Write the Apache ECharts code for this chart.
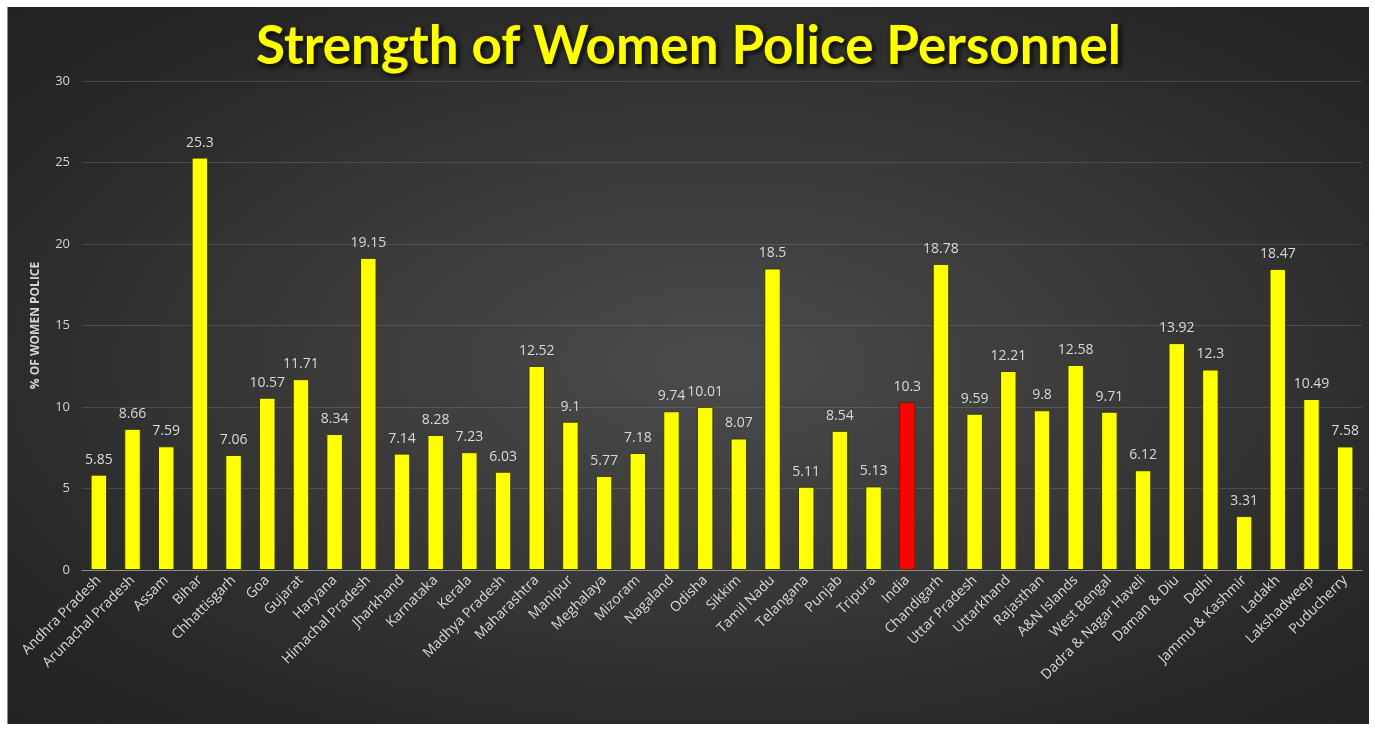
<!DOCTYPE html>
<html>
<head>
<meta charset="utf-8">
<script src="https://cdn.jsdelivr.net/npm/echarts@6/dist/echarts.min.js"></script>
<style>
  html, body { margin: 0; padding: 0; background: #ffffff; }
  #chart {
    position: absolute;
    left: 7px;
    top: 7px;
    width: 1362px;
    height: 717px;
    border-left: 1px solid #8a8a8a;
    box-sizing: border-box;
    background: radial-gradient(ellipse at 52% 50%, #4b4b4b 0%, #3a3a3a 40%, #282828 78%, #222222 100%);
  }
</style>
</head>
<body>
<div id="chart"></div>
<script>
const states = [
  'Andhra Pradesh', 'Arunachal Pradesh', 'Assam', 'Bihar', 'Chhattisgarh', 'Goa', 'Gujarat',
  'Haryana', 'Himachal Pradesh', 'Jharkhand', 'Karnataka', 'Kerala', 'Madhya Pradesh',
  'Maharashtra', 'Manipur', 'Meghalaya', 'Mizoram', 'Nagaland', 'Odisha', 'Sikkim',
  'Tamil Nadu', 'Telangana', 'Punjab', 'Tripura', 'India', 'Chandigarh', 'Uttar Pradesh',
  'Uttarkhand', 'Rajasthan', 'A&N Islands', 'West Bengal', 'Dadra & Nagar Haveli',
  'Daman & Diu', 'Delhi', 'Jammu & Kashmir', 'Ladakh', 'Lakshadweep', 'Puducherry'
];
const womenPct = [
  5.85, 8.66, 7.59, 25.3, 7.06, 10.57, 11.71,
  8.34, 19.15, 7.14, 8.28, 7.23, 6.03,
  12.52, 9.1, 5.77, 7.18, 9.74, 10.01, 8.07,
  18.5, 5.11, 8.54, 5.13, 10.3, 18.78, 9.59,
  12.21, 9.8, 12.58, 9.71, 6.12,
  13.92, 12.3, 3.31, 18.47, 10.49, 7.58
];
const highlight = 'India';

const chart = echarts.init(document.getElementById('chart'));

chart.setOption({
  backgroundColor: 'transparent',
  title: {
    text: 'Strength of Women Police Personnel',
    left: 'center',
    top: 8,
    textStyle: {
      color: '#ffff00',
      fontFamily: 'Lato',
      fontWeight: 'bold',
      fontSize: 53,
      textBorderColor: '#3a3a10',
      textBorderWidth: 2,
      textShadowColor: 'rgba(0,0,0,0.7)',
      textShadowBlur: 4,
      textShadowOffsetX: 2,
      textShadowOffsetY: 2,
    },
  },
  grid: { left: 74, right: 7, top: 74, bottom: 154 },
  xAxis: {
    type: 'category',
    data: states,
    axisLine: { lineStyle: { color: '#8c8c8c', width: 1 } },
    axisTick: { show: false },
    axisLabel: {
      color: '#d9d9d9',
      fontFamily: 'Open Sans',
      fontSize: 14,
      rotate: 45,
      margin: 8,
      interval: 0,
    },
  },
  yAxis: {
    type: 'value',
    min: 0,
    max: 30,
    interval: 5,
    name: '% OF WOMEN POLICE',
    nameLocation: 'middle',
    nameRotate: 90,
    nameGap: 40,
    nameTextStyle: {
      color: '#d4d4d4',
      fontFamily: 'Open Sans',
      fontWeight: 'bold',
      fontSize: 12,
    },
    axisLine: { show: false },
    axisTick: { show: false },
    axisLabel: {
      color: '#d4d4d4',
      fontFamily: 'Open Sans',
      fontSize: 13,
      margin: 12,
    },
    splitLine: { lineStyle: { color: 'rgba(150,150,150,0.28)', width: 1 } },
  },
  series: [
    {
      type: 'bar',
      barWidth: '49%',
      data: womenPct.map((v, i) => ({
        value: v,
        itemStyle: { color: states[i] === highlight ? '#ff0000' : '#ffff00' },
      })),
      itemStyle: { borderColor: '#3a3a00', borderWidth: 1 },
      label: {
        show: true,
        position: 'top',
        distance: 8,
        color: '#d9d9d9',
        fontFamily: 'Open Sans',
        fontSize: 14,
      },
    },
  ],
});

window.addEventListener('resize', () => chart.resize());
</script>
</body>
</html>
